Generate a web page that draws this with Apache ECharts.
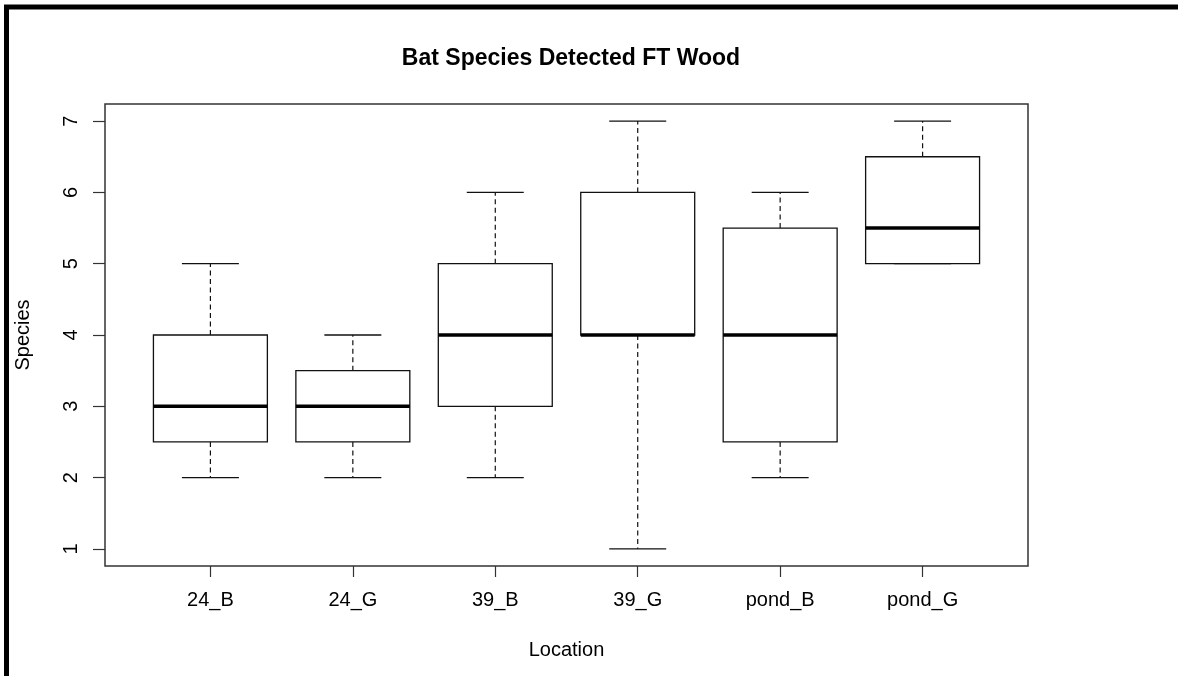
<!DOCTYPE html>
<html>
<head>
<meta charset="utf-8">
<script src="https://cdn.jsdelivr.net/npm/echarts@6/dist/echarts.min.js"></script>
<style>
html,body{margin:0;padding:0;background:#fff;}
#chart{width:1178px;height:676px;}
</style>
</head>
<body>
<div id="chart"></div>
<script>
// Data
const categories = ['24_B', '24_G', '39_B', '39_G', 'pond_B', 'pond_G'];
const mins    = [2, 2, 2, 1, 2, 5];
const q1s     = [2.5, 2.5, 3, 4, 2.5, 5];
const medians = [3, 3, 4, 4, 4, 5.5];
const q3s     = [4, 3.5, 5, 6, 5.5, 6.5];
const maxs    = [5, 4, 6, 7, 6, 7];
const yTicks  = [1, 2, 3, 4, 5, 6, 7];
const titleText = 'Bat Species Detected FT Wood';
const xName = 'Location';
const yName = 'Species';

const FONT = '"Liberation Sans", Arial, sans-serif';
const positions = categories.map((c, i) => i + 1);
const boxData = categories.map((c, i) => [i + 1, mins[i], q1s[i], medians[i], q3s[i], maxs[i]]);

function renderItem(params, api) {
  const x = api.value(0);
  const pMin = api.coord([x, api.value(1)]);
  const pQ1 = api.coord([x, api.value(2)]);
  const pMed = api.coord([x, api.value(3)]);
  const pQ3 = api.coord([x, api.value(4)]);
  const pMax = api.coord([x, api.value(5)]);
  const boxW = api.size([0.8, 0])[0];
  const capW = api.size([0.4, 0])[0];
  const cx = pMed[0];
  const stroke = '#111';
  const dash = { stroke: stroke, lineWidth: 1.2, lineDash: [5, 3.5] };
  const solid = { stroke: stroke, lineWidth: 1.3 };
  return {
    type: 'group',
    children: [
      { type: 'line', shape: { x1: cx, y1: pQ3[1], x2: cx, y2: pMax[1] }, style: dash },
      { type: 'line', shape: { x1: cx, y1: pQ1[1], x2: cx, y2: pMin[1] }, style: dash },
      { type: 'line', shape: { x1: cx - capW / 2, y1: pMax[1], x2: cx + capW / 2, y2: pMax[1] }, style: solid },
      { type: 'line', shape: { x1: cx - capW / 2, y1: pMin[1], x2: cx + capW / 2, y2: pMin[1] }, style: solid },
      { type: 'rect', shape: { x: cx - boxW / 2, y: pQ3[1], width: boxW, height: pQ1[1] - pQ3[1] },
        style: { fill: '#fff', stroke: stroke, lineWidth: 1.3 } },
      { type: 'line', shape: { x1: cx - boxW / 2, y1: pMed[1], x2: cx + boxW / 2, y2: pMed[1] },
        style: { stroke: '#000', lineWidth: 3.6 } }
    ]
  };
}

const chart = echarts.init(document.getElementById('chart'), null, { renderer: 'canvas' });
chart.setOption({
  backgroundColor: '#fff',
  animation: false,
  title: {
    text: titleText,
    left: 566,
    top: 42,
    textAlign: 'center',
    textStyle: { fontFamily: FONT, fontSize: 23, fontWeight: 'bold', color: '#000' }
  },
  grid: {
    left: 105, right: 150, top: 104, bottom: 110,
    show: true, borderColor: '#333', borderWidth: 1.5, backgroundColor: 'transparent'
  },
  xAxis: {
    type: 'value',
    min: 0.26, max: 6.74,
    name: xName,
    nameLocation: 'middle',
    nameGap: 74,
    nameTextStyle: { fontFamily: FONT, fontSize: 20, color: '#000', verticalAlign: 'top' },
    splitLine: { show: false },
    axisLine: { show: false },
    axisTick: { show: true, customValues: positions, length: 11, lineStyle: { color: '#333', width: 1.2 } },
    axisLabel: {
      customValues: positions,
      margin: 24,
      fontFamily: FONT, fontSize: 20, color: '#000',
      formatter: v => categories[Math.round(v) - 1] || ''
    }
  },
  yAxis: {
    type: 'value',
    min: 0.76, max: 7.24,
    name: yName,
    nameLocation: 'middle',
    nameGap: 72,
    nameRotate: 90,
    nameTextStyle: { fontFamily: FONT, fontSize: 20, color: '#000' },
    splitLine: { show: false },
    axisLine: { show: false },
    axisTick: { show: true, customValues: yTicks, length: 12, lineStyle: { color: '#333', width: 1.2 } },
    axisLabel: {
      customValues: yTicks,
      rotate: 90,
      margin: 24,
      fontFamily: FONT, fontSize: 20, color: '#000'
    }
  },
  graphic: [
    {
      type: 'polyline',
      shape: { points: [[6.5, 676], [6.5, 7], [1178, 7]] },
      style: { stroke: '#000', lineWidth: 5, fill: null },
      silent: true
    }
  ],
  series: [{
    type: 'custom',
    renderItem: renderItem,
    data: boxData,
    encode: { x: 0, y: [1, 2, 3, 4, 5] },
    clip: false
  }]
});
</script>
</body>
</html>
